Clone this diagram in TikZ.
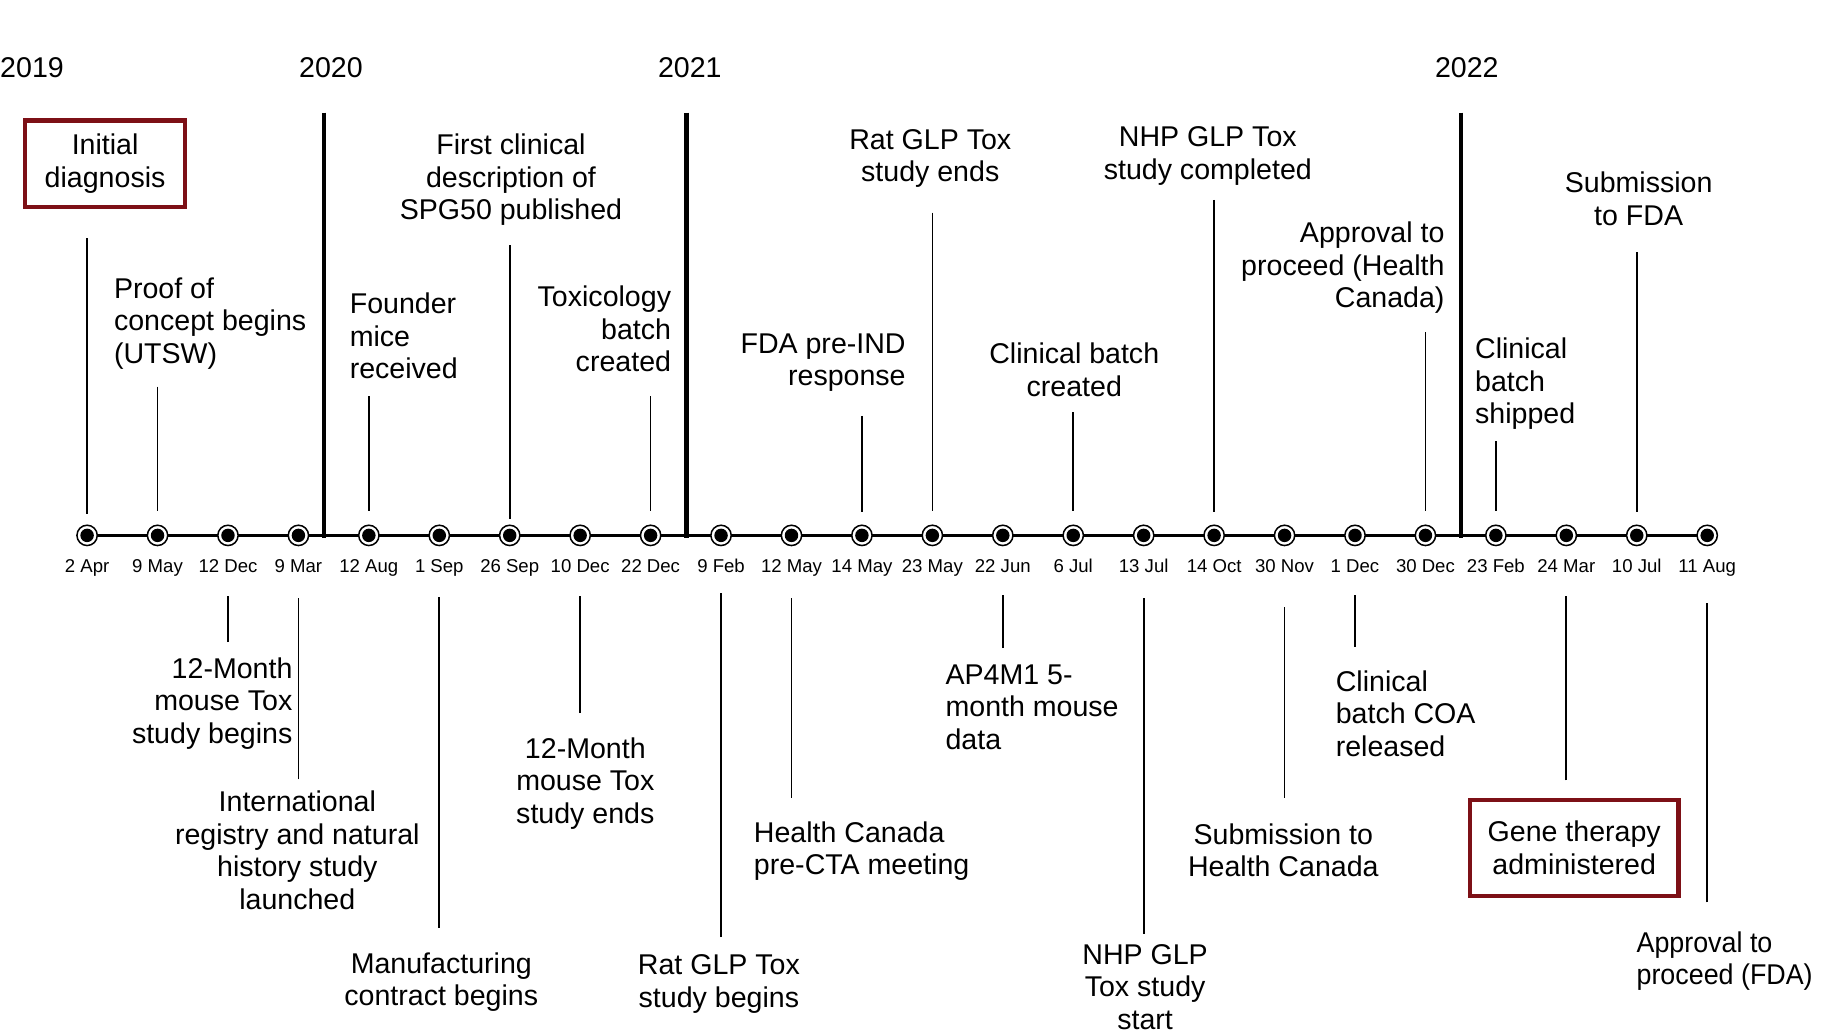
\documentclass[tikz,border=0pt]{standalone}
\usepackage{fontspec}
\setmainfont{Liberation Sans}
\newfontfamily\narrowfont[FakeStretch=0.94]{Liberation Sans}
\definecolor{boxred}{RGB}{125,16,22}
\begin{document}
\begin{tikzpicture}[x=1pt,y=-1pt,
  lbl/.style={inner sep=0pt, font=\fontsize{24.6}{28}\selectfont},
  datelbl/.style={inner sep=0pt, font=\fontsize{16}{18}\selectfont, anchor=base},
  yearlbl/.style={inner sep=0pt, font=\fontsize{24.6}{28}\selectfont},
  redbox/.style={lbl, draw=boxred, line width=3.5pt, align=center},
  conn/.style={line width=1.5pt},
  yearline/.style={line width=3.8pt},
  timeline/.style={line width=2.6pt},
  evdot/.style={circle, draw=black, fill=white, line width=1.3pt, minimum size=17.5pt, inner sep=0pt,
    path picture={\fill[black] (path picture bounding box.center) circle (5.8pt);}}
]
\fill[white] (0,0) rectangle (1568,888.6);
\useasboundingbox (0,0) rectangle (1568,888.6);

% years
\node[yearlbl, anchor=base west] (y2019) at (0,67) {2019};
\node[yearlbl, anchor=base] (y2020) at (285,67) {2020};
\node[yearlbl, anchor=base] (y2021) at (594,67) {2021};
\node[yearlbl, anchor=base] (y2022) at (1263,67) {2022};
\coordinate (yl20t) at (279,97);   \coordinate (yl20b) at (279,463);
\coordinate (yl21t) at (591,97);   \coordinate (yl21b) at (591,463);
\coordinate (yl22t) at (1258,97);  \coordinate (yl22b) at (1258,463);
\draw[yearline] (yl20t) -- (yl20b);
\draw[yearline] (yl21t) -- (yl21b);
\draw[yearline] (yl22t) -- (yl22b);

% timeline
\foreach \i in {0,...,23} { \coordinate (c\i) at ({75+60.652*\i},461); }
\draw[timeline] (c0) -- (c23);
\foreach \i/\d in {0/2 Apr,1/9 May,2/12 Dec,3/9 Mar,4/12 Aug,5/1 Sep,6/26 Sep,7/10 Dec,
  8/22 Dec,9/9 Feb,10/12 May,11/14 May,12/23 May,13/22 Jun,14/6 Jul,15/13 Jul,
  16/14 Oct,17/30 Nov,18/1 Dec,19/30 Dec,20/23 Feb,21/24 Mar,22/10 Jul,23/11 Aug}
{
  \node[evdot] (d\i) at (c\i) {};
  \node[datelbl] (dl\i) at ([yshift=-32pt]c\i) {\d};
}

% top events
\node[redbox, minimum width=137.5pt, minimum height=74.5pt] (L0) at (90.5,141) {Initial\\diagnosis};
\node[lbl, align=left, anchor=north west] (L1) at (98,239) {Proof of\\concept begins\\(UTSW)};
\node[lbl, align=left, anchor=north west] (L4) at (301,252) {Founder\\mice\\received};
\node[lbl, align=center, anchor=north] (L6) at (440,115) {First clinical\\description of\\SPG50 published};
\node[lbl, align=right, anchor=north east] (L8) at (578,246) {Toxicology\\batch\\created};
\node[lbl, align=right, anchor=north east] (L11) at (780,287) {FDA pre-IND\\response};
\node[lbl, align=center, anchor=north] (L12) at (801,111) {Rat GLP Tox\\study ends};
\node[lbl, align=center, anchor=north] (L14) at (925,295) {Clinical batch\\created};
\node[lbl, align=center, anchor=north] (L16) at (1040,109) {NHP GLP Tox\\study completed};
\node[lbl, align=right, anchor=north east] (L19) at (1244,191) {Approval to\\proceed (Health\\Canada)};
\node[lbl, align=left, anchor=north west] (L20) at (1270,291) {Clinical\\batch\\shipped};
\node[lbl, align=center, anchor=north] (L22) at (1411,148) {Submission\\to FDA};

% bottom events
\node[lbl, align=right, anchor=north east] (L2) at (252,566) {12-Month\\mouse Tox\\study begins};
\node[lbl, align=center, anchor=north] (L3) at (256,681) {International\\registry and natural\\history study\\launched};
\node[lbl, align=center, anchor=north] (L5) at (380,820) {Manufacturing\\contract begins};
\node[lbl, align=center, anchor=north] (L7) at (504,635) {12-Month\\mouse Tox\\study ends};
\node[lbl, align=center, anchor=north] (L9) at (619,822) {Rat GLP Tox\\study begins};
\node[lbl, align=left, anchor=north west] (L10) at (649,707) {Health Canada\\pre-CTA meeting};
\node[lbl, align=left, anchor=north west] (L13) at (814,572) {AP4M1 5-\\month mouse\\data};
\node[lbl, align=center, anchor=north] (L15) at (986,813) {NHP GLP\\Tox study\\start};
\node[lbl, align=center, anchor=north] (L17) at (1105,709) {Submission to\\Health Canada};
\node[lbl, align=left, anchor=north west] (L18) at (1150,577) {Clinical\\batch COA\\released};
\node[redbox, minimum width=179.5pt, minimum height=82.5pt] (L21) at (1355.5,730) {Gene therapy\\administered};
\node[lbl, align=left, anchor=north west, font=\narrowfont\fontsize{24.6}{28}\selectfont] (L23) at (1409,802) {Approval to\\proceed (FDA)};

% connectors (label side -> dot side)
\foreach \i/\ya/\yb in {0/205/443,1/333/440,4/341/440,6/211/447,8/341/440,11/358/441,
  12/183/440,14/355/440,16/172/441,19/286/440,20/380/440,22/217/441,
  2/553/513,3/671/515,5/799/514,7/614/513,9/807/511,10/687/515,13/558/512,
  15/804/515,17/687/523,18/557/512,21/672/513,23/777/519}
{
  \draw[conn] (d\i |- 0,\ya) -- (d\i |- 0,\yb);
}
\end{tikzpicture}
\end{document}
